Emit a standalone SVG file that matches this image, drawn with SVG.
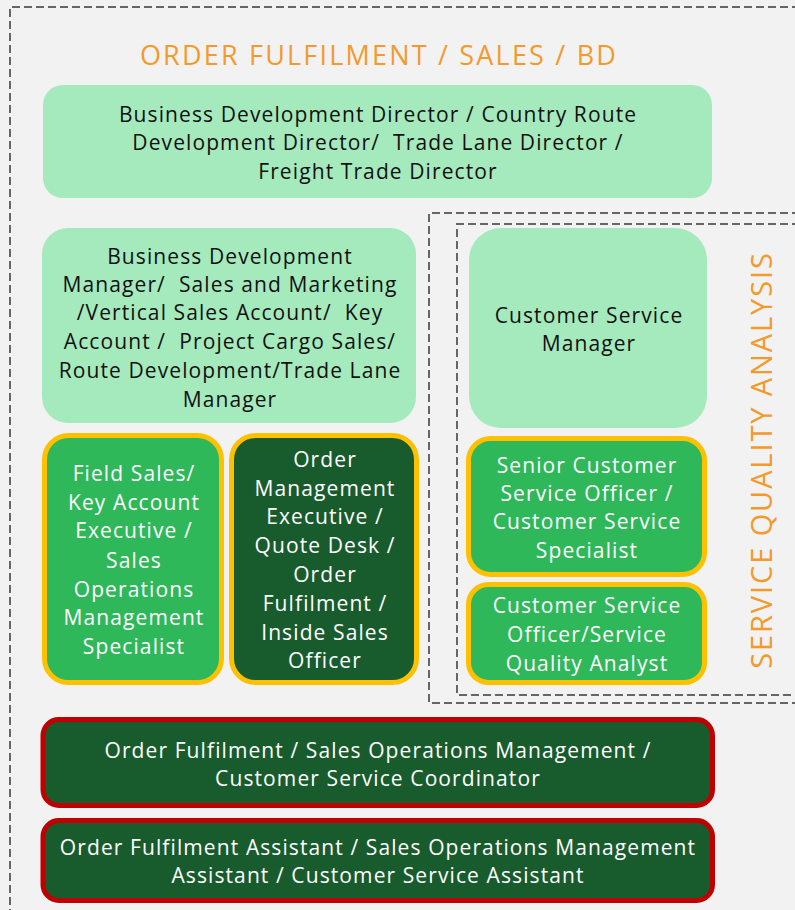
<svg xmlns="http://www.w3.org/2000/svg" width="795" height="910" viewBox="0 0 795 910">
<style>
.bg{fill:#F2F2F2}
.dash{fill:none;stroke:#666;stroke-width:2;stroke-dasharray:8 4}
.light{fill:#A5EABD}
.mid{fill:#2EB85A;stroke:#FFC000;stroke-width:5}
.dark{fill:#185C2E;stroke:#FFC000;stroke-width:5}
.red{fill:#185C2E;stroke:#C00000;stroke-width:5}
text{font-family:"Open Sans","Liberation Sans",sans-serif;font-size:21px;text-anchor:middle;letter-spacing:1.1px}
.tb{fill:#111}
.tw{fill:#fff}
.pre{white-space:pre}
.title{fill:#F39A2B;font-size:27px;letter-spacing:2.2px}
.vt{fill:#F39A2B;font-size:29px;letter-spacing:1.9px}
</style>
<rect class="bg" x="0" y="0" width="795" height="910"/>
<g id="frames">
<path class="dash" d="M800 7H10V915"/>
<path class="dash" d="M800 213H429V703H800"/>
<path class="dash" d="M800 224H457V695H800"/>
</g>
<text class="title" x="379" y="65">ORDER FULFILMENT / SALES / BD</text>
<text class="vt" transform="translate(772,460) rotate(-90)" x="0" y="0">SERVICE QUALITY ANALYSIS</text>
<g id="connectors"/>
<g id="bd-director">
<rect class="light" x="43" y="85" width="669" height="113" rx="20"/>
<text class="tb" x="378" y="121.5">Business Development Director / Country Route</text>
<text class="tb pre" xml:space="preserve" x="378" y="150">Development Director/  Trade Lane Director /</text>
<text class="tb" x="378" y="178.5">Freight Trade Director</text>
</g>
<g id="bd-manager">
<rect class="light" x="42" y="228" width="374" height="195" rx="26"/>
<text class="tb" x="230" y="263.5">Business Development</text>
<text class="tb pre" xml:space="preserve" x="230" y="291.5">Manager/  Sales and Marketing</text>
<text class="tb pre" xml:space="preserve" x="230" y="319.5">/Vertical Sales Account/  Key</text>
<text class="tb pre" xml:space="preserve" x="230" y="348.5">Account /  Project Cargo Sales/</text>
<text class="tb" x="230" y="377.5">Route Development/Trade Lane</text>
<text class="tb" x="230" y="406.5">Manager</text>
</g>
<g id="cs-manager">
<rect class="light" x="469" y="228" width="238" height="200" rx="32"/>
<text class="tb" x="589" y="322.5">Customer Service</text>
<text class="tb" x="589" y="350.5">Manager</text>
</g>
<g id="field-sales">
<rect class="mid" x="44.5" y="435.5" width="177" height="247" rx="24"/>
<text class="tw" x="134" y="480.5">Field Sales/</text>
<text class="tw" x="134" y="509.5">Key Account</text>
<text class="tw" x="134" y="537.5">Executive /</text>
<text class="tw" x="134" y="567.5">Sales</text>
<text class="tw" x="134" y="596.5">Operations</text>
<text class="tw" x="134" y="624.5">Management</text>
<text class="tw" x="134" y="653.5">Specialist</text>
</g>
<g id="order-mgmt">
<rect class="dark" x="231.5" y="435.5" width="185" height="247" rx="24"/>
<text class="tw" x="325" y="466.5">Order</text>
<text class="tw" x="325" y="495.5">Management</text>
<text class="tw" x="325" y="523.5">Executive /</text>
<text class="tw" x="325" y="552.5">Quote Desk /</text>
<text class="tw" x="325" y="581.5">Order</text>
<text class="tw" x="325" y="610.5">Fulfilment /</text>
<text class="tw" x="325" y="639.5">Inside Sales</text>
<text class="tw" x="325" y="667.5">Officer</text>
</g>
<g id="senior-cs">
<rect class="mid" x="468.5" y="438.5" width="236" height="136" rx="22"/>
<text class="tw" x="587" y="472.5">Senior Customer</text>
<text class="tw" x="587" y="500.5">Service Officer /</text>
<text class="tw" x="587" y="528.5">Customer Service</text>
<text class="tw" x="587" y="557.5">Specialist</text>
</g>
<g id="cs-officer">
<rect class="mid" x="468.5" y="584.5" width="236" height="98" rx="20"/>
<text class="tw" x="587" y="612.5">Customer Service</text>
<text class="tw" x="587" y="641.5">Officer/Service</text>
<text class="tw" x="587" y="670.5">Quality Analyst</text>
</g>
<g id="coordinator">
<rect class="red" x="43" y="719.5" width="669.5" height="86" rx="16"/>
<text class="tw" x="378" y="757.5">Order Fulfilment / Sales Operations Management /</text>
<text class="tw" x="378" y="785.5">Customer Service Coordinator</text>
</g>
<g id="assistant">
<rect class="red" x="43" y="820.5" width="669.5" height="80" rx="16"/>
<text class="tw" x="378" y="854.5">Order Fulfilment Assistant / Sales Operations Management</text>
<text class="tw" x="378" y="882.5">Assistant / Customer Service Assistant</text>
</g>
</svg>
